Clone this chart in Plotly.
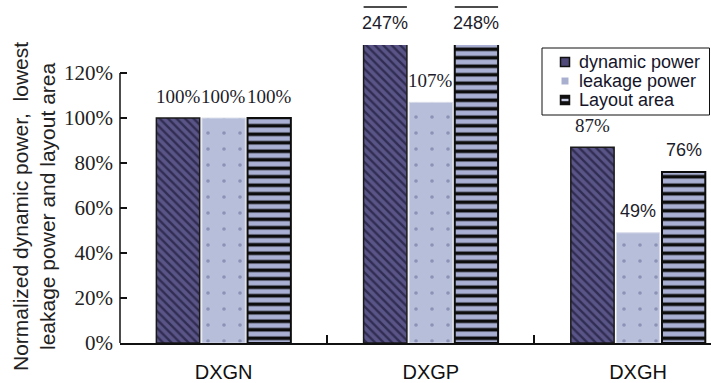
import plotly.graph_objects as go

# Data
categories = ["DXGN", "DXGP", "DXGH"]
series_names = ["dynamic power", "leakage power", "Layout area"]
dynamic_power = [100, 247, 87]
leakage_power = [100, 107, 49]
layout_area = [100, 248, 76]
y_ticks = [0, 20, 40, 60, 80, 100, 120]
y_tick_labels = ["0%", "20%", "40%", "60%", "80%", "100%", "120%"]

series_values = [dynamic_power, leakage_power, layout_area]

# Visible value range (tall bars are cut at the top of the plot)
Y_TOP = 132.5
BARGAP = 0.34
BARGROUPGAP = 0.05

SERIF = "Liberation Serif"
SANS = "Liberation Sans"

W, H = 711, 383
ML, MR, MT, MB = 120, 0, 45, 40
PW, PH = W - ML - MR, H - MT - MB


def px_x(x):
    return (x - ML) / PW


def px_y(y):
    return (H - MB - y) / PH


styles = [
    dict(color="#4f4a7a", line=dict(color="#1a1a1a", width=1.5),
         pattern=dict(shape="\\", fgcolor="#302c52", bgcolor="#5a5587",
                      size=6, solidity=0.4, fillmode="replace")),
    dict(color="#b7bed9", line=dict(color="#d8dcea", width=1),
         pattern=dict(shape=".", fgcolor="#8b92b6", bgcolor="#b7bed9",
                      size=16, solidity=0.04, fillmode="replace")),
    dict(color="#a9b0d3", line=dict(color="#0d0d0d", width=2),
         pattern=dict(shape="-", fgcolor="#0d0d0d", bgcolor="#a9b0d3",
                      size=8.5, solidity=0.42, fillmode="replace")),
]

fig = go.Figure()
for name, vals, st in zip(series_names, series_values, styles):
    fig.add_trace(go.Bar(x=categories, y=vals, name=name, marker=st,
                         showlegend=False))

# Value labels: serif for most, sans for a few (per category, per series)
label_sans = [[False, False, False], [True, False, True], [False, True, True]]
slot = (1 - BARGAP) / 3
bar_w = slot * (1 - BARGROUPGAP)
annotations = []
shapes = []
for s, vals in enumerate(series_values):
    offset = -(1 - BARGAP) / 2 + slot * (s + 0.5)
    for c, v in enumerate(vals):
        xc = c + offset
        sans = label_sans[c][s]
        annotations.append(dict(
            x=xc, y=min(v, Y_TOP), xref="x", yref="y",
            text=f"{v}%", showarrow=False, yanchor="middle", yshift=22,
            font=dict(family=SANS if sans else SERIF,
                      size=18 if sans else 19, color="#1c1c2a"),
        ))
        if v > Y_TOP:
            # overline marking a value beyond the axis
            shapes.append(dict(type="line", xref="x", yref="paper",
                               x0=xc - bar_w / 2, x1=xc + bar_w / 2,
                               y0=px_y(7), y1=px_y(7),
                               line=dict(color="#111", width=1.5)))

# y axis line only up to the last tick
shapes.append(dict(type="line", xref="paper", yref="y", x0=0, x1=0,
                   y0=0, y1=max(y_ticks), line=dict(color="#111", width=1.5)))

# Legend box with compact entries
shapes.append(dict(type="rect", xref="paper", yref="paper",
                   x0=px_x(542), x1=px_x(709.5), y0=px_y(115), y1=px_y(48),
                   line=dict(color="#111", width=1), fillcolor="white",
                   layer="above"))
legend_y = [62, 81, 100]
mx = 565
# dynamic power key
shapes.append(dict(type="rect", xref="paper", yref="paper",
                   x0=px_x(mx - 4.5), x1=px_x(mx + 4.5),
                   y0=px_y(legend_y[0] + 4.5), y1=px_y(legend_y[0] - 4.5),
                   line=dict(color="#111", width=1.5), fillcolor="#4f4a7a",
                   layer="above"))
# leakage power key
shapes.append(dict(type="rect", xref="paper", yref="paper",
                   x0=px_x(mx - 3.5), x1=px_x(mx + 3.5),
                   y0=px_y(legend_y[1] + 3.5), y1=px_y(legend_y[1] - 3.5),
                   line=dict(width=0), fillcolor="#a9b0cf", layer="above"))
# layout area key
shapes.append(dict(type="rect", xref="paper", yref="paper",
                   x0=px_x(mx - 4.5), x1=px_x(mx + 4.5),
                   y0=px_y(legend_y[2] + 4.5), y1=px_y(legend_y[2] - 4.5),
                   line=dict(color="#111", width=1.5), fillcolor="#111",
                   layer="above"))
shapes.append(dict(type="rect", xref="paper", yref="paper",
                   x0=px_x(mx - 3.5), x1=px_x(mx + 3.5),
                   y0=px_y(legend_y[2] + 1.2), y1=px_y(legend_y[2] - 1.2),
                   line=dict(width=0), fillcolor="#c8cde4", layer="above"))
for name, ly in zip(series_names, legend_y):
    annotations.append(dict(
        x=px_x(577), y=px_y(ly), xref="paper", yref="paper",
        text=name, showarrow=False, xanchor="left", yanchor="middle",
        font=dict(family=SANS, size=18, color="#15152a"),
    ))

annotations.append(dict(
    x=px_x(34), y=px_y(207), xref="paper", yref="paper",
    text="Normalized dynamic power,  lowest<br>leakage power and layout area",
    textangle=-90, showarrow=False, xanchor="center", yanchor="middle",
    font=dict(family=SANS, size=21, color="#222"),
))

fig.update_layout(
    width=W, height=H,
    margin=dict(l=ML, r=MR, t=MT, b=MB),
    paper_bgcolor="white", plot_bgcolor="white",
    barmode="group", bargap=BARGAP, bargroupgap=BARGROUPGAP,
    showlegend=False,
    annotations=annotations, shapes=shapes,
)
fig.update_xaxes(
    range=[-0.5, 2.352], showline=True, linecolor="#111", linewidth=1.5,
    ticks="inside", tickson="boundaries", ticklen=8, tickcolor="#111",
    tickwidth=1.5, showgrid=False, ticklabelstandoff=10,
    tickfont=dict(family=SANS, size=20, color="#111"),
)
fig.update_yaxes(
    range=[0, Y_TOP], showline=False, showgrid=False, zeroline=False,
    tickmode="array", tickvals=y_ticks, ticktext=y_tick_labels,
    ticks="inside", ticklen=7,
    tickcolor="#111", tickwidth=1.5, ticklabelstandoff=6,
    tickfont=dict(family=SERIF, size=21, color="#222"),
)

fig.write_html("out.html")
